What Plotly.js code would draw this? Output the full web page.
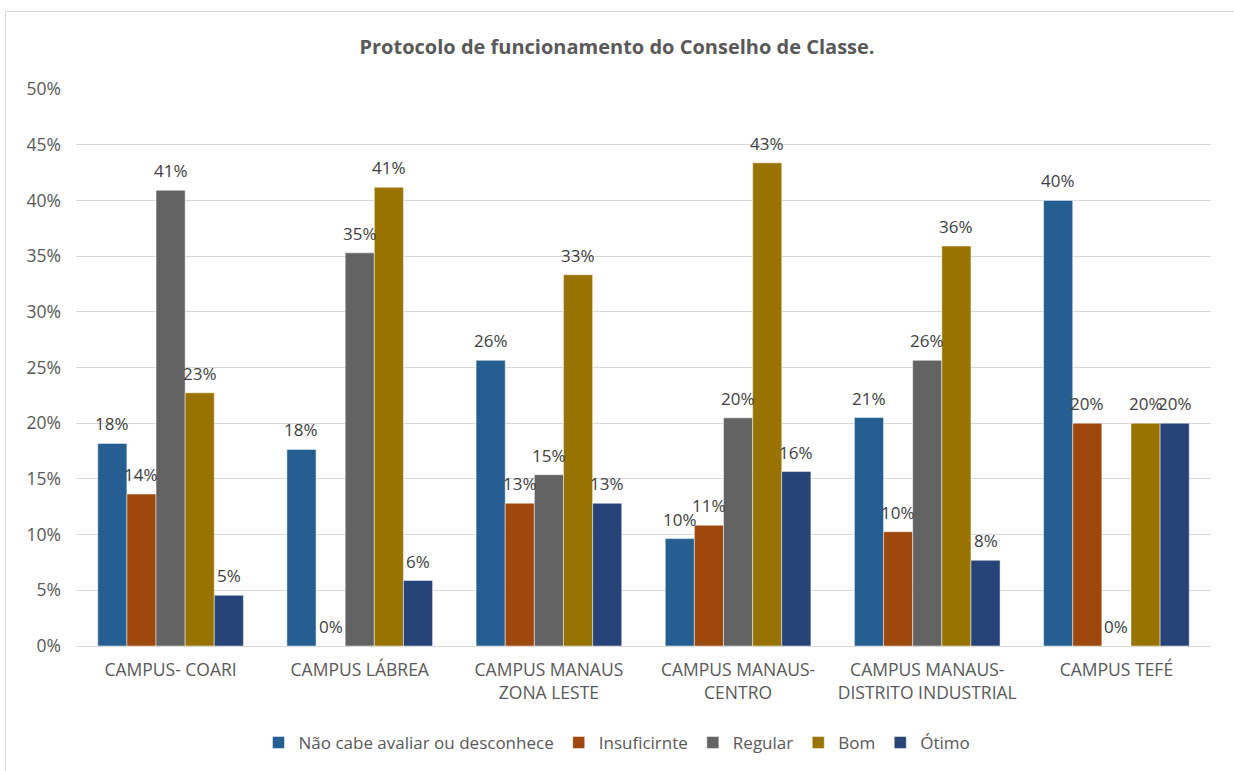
<!DOCTYPE html>
<html>
<head>
<meta charset="utf-8">
<script src="https://cdn.plot.ly/plotly-3.0.1.min.js"></script>
<style>
  html, body { margin: 0; padding: 0; background: #ffffff; }
  #wrap { position: relative; width: 1234px; height: 771px; overflow: hidden; }
  #chart { position: absolute; left: 0; top: 0; width: 1234px; height: 771px; }
  #frame { position: absolute; left: 5px; top: 11px; width: 1260px; height: 800px;
           border: 1px solid #d9d9d9; pointer-events: none; }
</style>
</head>
<body>
<div id="wrap">
  <div id="chart"></div>
  <div id="frame"></div>
</div>
<script>
const categories = [
  "CAMPUS- COARI",
  "CAMPUS LÁBREA",
  "CAMPUS MANAUS<br>ZONA LESTE",
  "CAMPUS MANAUS-<br>CENTRO",
  "CAMPUS MANAUS-<br>DISTRITO INDUSTRIAL",
  "CAMPUS TEFÉ"
];
const seriesNames = ["Não cabe avaliar ou desconhece", "Insuficirnte", "Regular", "Bom", "Ótimo"];
const naoCabe      = [0.1818, 0.1765, 0.2564, 0.0964, 0.2051, 0.40];
const insuficiente = [0.1364, 0.0,    0.1282, 0.1084, 0.1026, 0.20];
const regular      = [0.4091, 0.3529, 0.1538, 0.2048, 0.2564, 0.0];
const bom          = [0.2273, 0.4118, 0.3333, 0.4337, 0.3590, 0.20];
const otimo        = [0.0455, 0.0588, 0.1282, 0.1566, 0.0769, 0.20];
const yTicks = [0, 0.05, 0.10, 0.15, 0.20, 0.25, 0.30, 0.35, 0.40, 0.45, 0.50];

const seriesValues = [naoCabe, insuficiente, regular, bom, otimo];
const colors = ["#255E91", "#9E480E", "#636363", "#997300", "#264478"];

const FONT = "Open Sans, Noto Sans, sans-serif";
const marginL = 76, marginR = 23, W = 1234;
const bargap = 0.23;
const plotW = W - marginL - marginR;
const barW = plotW / categories.length * (1 - bargap) / seriesValues.length;

const traces = seriesValues.map((vals, i) => ({
  type: "bar",
  name: seriesNames[i],
  x: categories,
  y: vals,
  marker: { color: colors[i], line: { color: "rgba(255,255,255,0.6)", width: 0.8 } },
  hoverinfo: "skip"
}));

const annotations = [];
seriesValues.forEach((vals, i) => {
  vals.forEach((v, j) => {
    annotations.push({
      x: categories[j], y: v, xref: "x", yref: "y",
      text: Math.round(v * 100) + "%",
      showarrow: false,
      xanchor: "center", yanchor: "bottom",
      xshift: (i - 2) * barW,
      yshift: 6,
      font: { family: FONT, size: 17, color: "#404040" }
    });
  });
});

const layout = {
  width: 1234, height: 771,
  margin: { l: marginL, r: marginR, t: 89, b: 125 },
  paper_bgcolor: "#ffffff",
  plot_bgcolor: "#ffffff",
  barmode: "group",
  bargap: bargap,
  bargroupgap: 0,
  title: {
    text: "<b>Protocolo de funcionamento do Conselho de Classe.</b>",
    x: 0.5, xref: "container", xanchor: "center",
    y: 1 - 47 / 771, yref: "container", yanchor: "middle",
    font: { family: FONT, size: 20, color: "#595959" }
  },
  xaxis: {
    type: "category",
    tickfont: { family: FONT, size: 17.5, color: "#595959" },
    showgrid: false,
    showline: true, linecolor: "#d9d9d9", linewidth: 1,
    ticks: "", ticklabelstandoff: 8,
    fixedrange: true
  },
  yaxis: {
    range: [0, 0.5],
    tickvals: yTicks,
    tickformat: ".0%",
    tickfont: { family: FONT, size: 17.5, color: "#595959" },
    showgrid: true, gridcolor: "#d9d9d9", gridwidth: 1,
    zeroline: false, showline: false,
    ticks: "", ticklabelstandoff: 14,
    fixedrange: true
  },
  legend: {
    orientation: "h",
    x: 0.5, xref: "container", xanchor: "center",
    y: 1 - 743 / 771, yref: "container", yanchor: "middle",
    font: { family: FONT, size: 17, color: "#595959" },
    traceorder: "normal",
    itemwidth: 30,
    itemclick: false, itemdoubleclick: false
  },
  annotations: annotations,
  showlegend: true
};

Plotly.newPlot("chart", traces, layout, { displayModeBar: false, staticPlot: true });
</script>
</body>
</html>
